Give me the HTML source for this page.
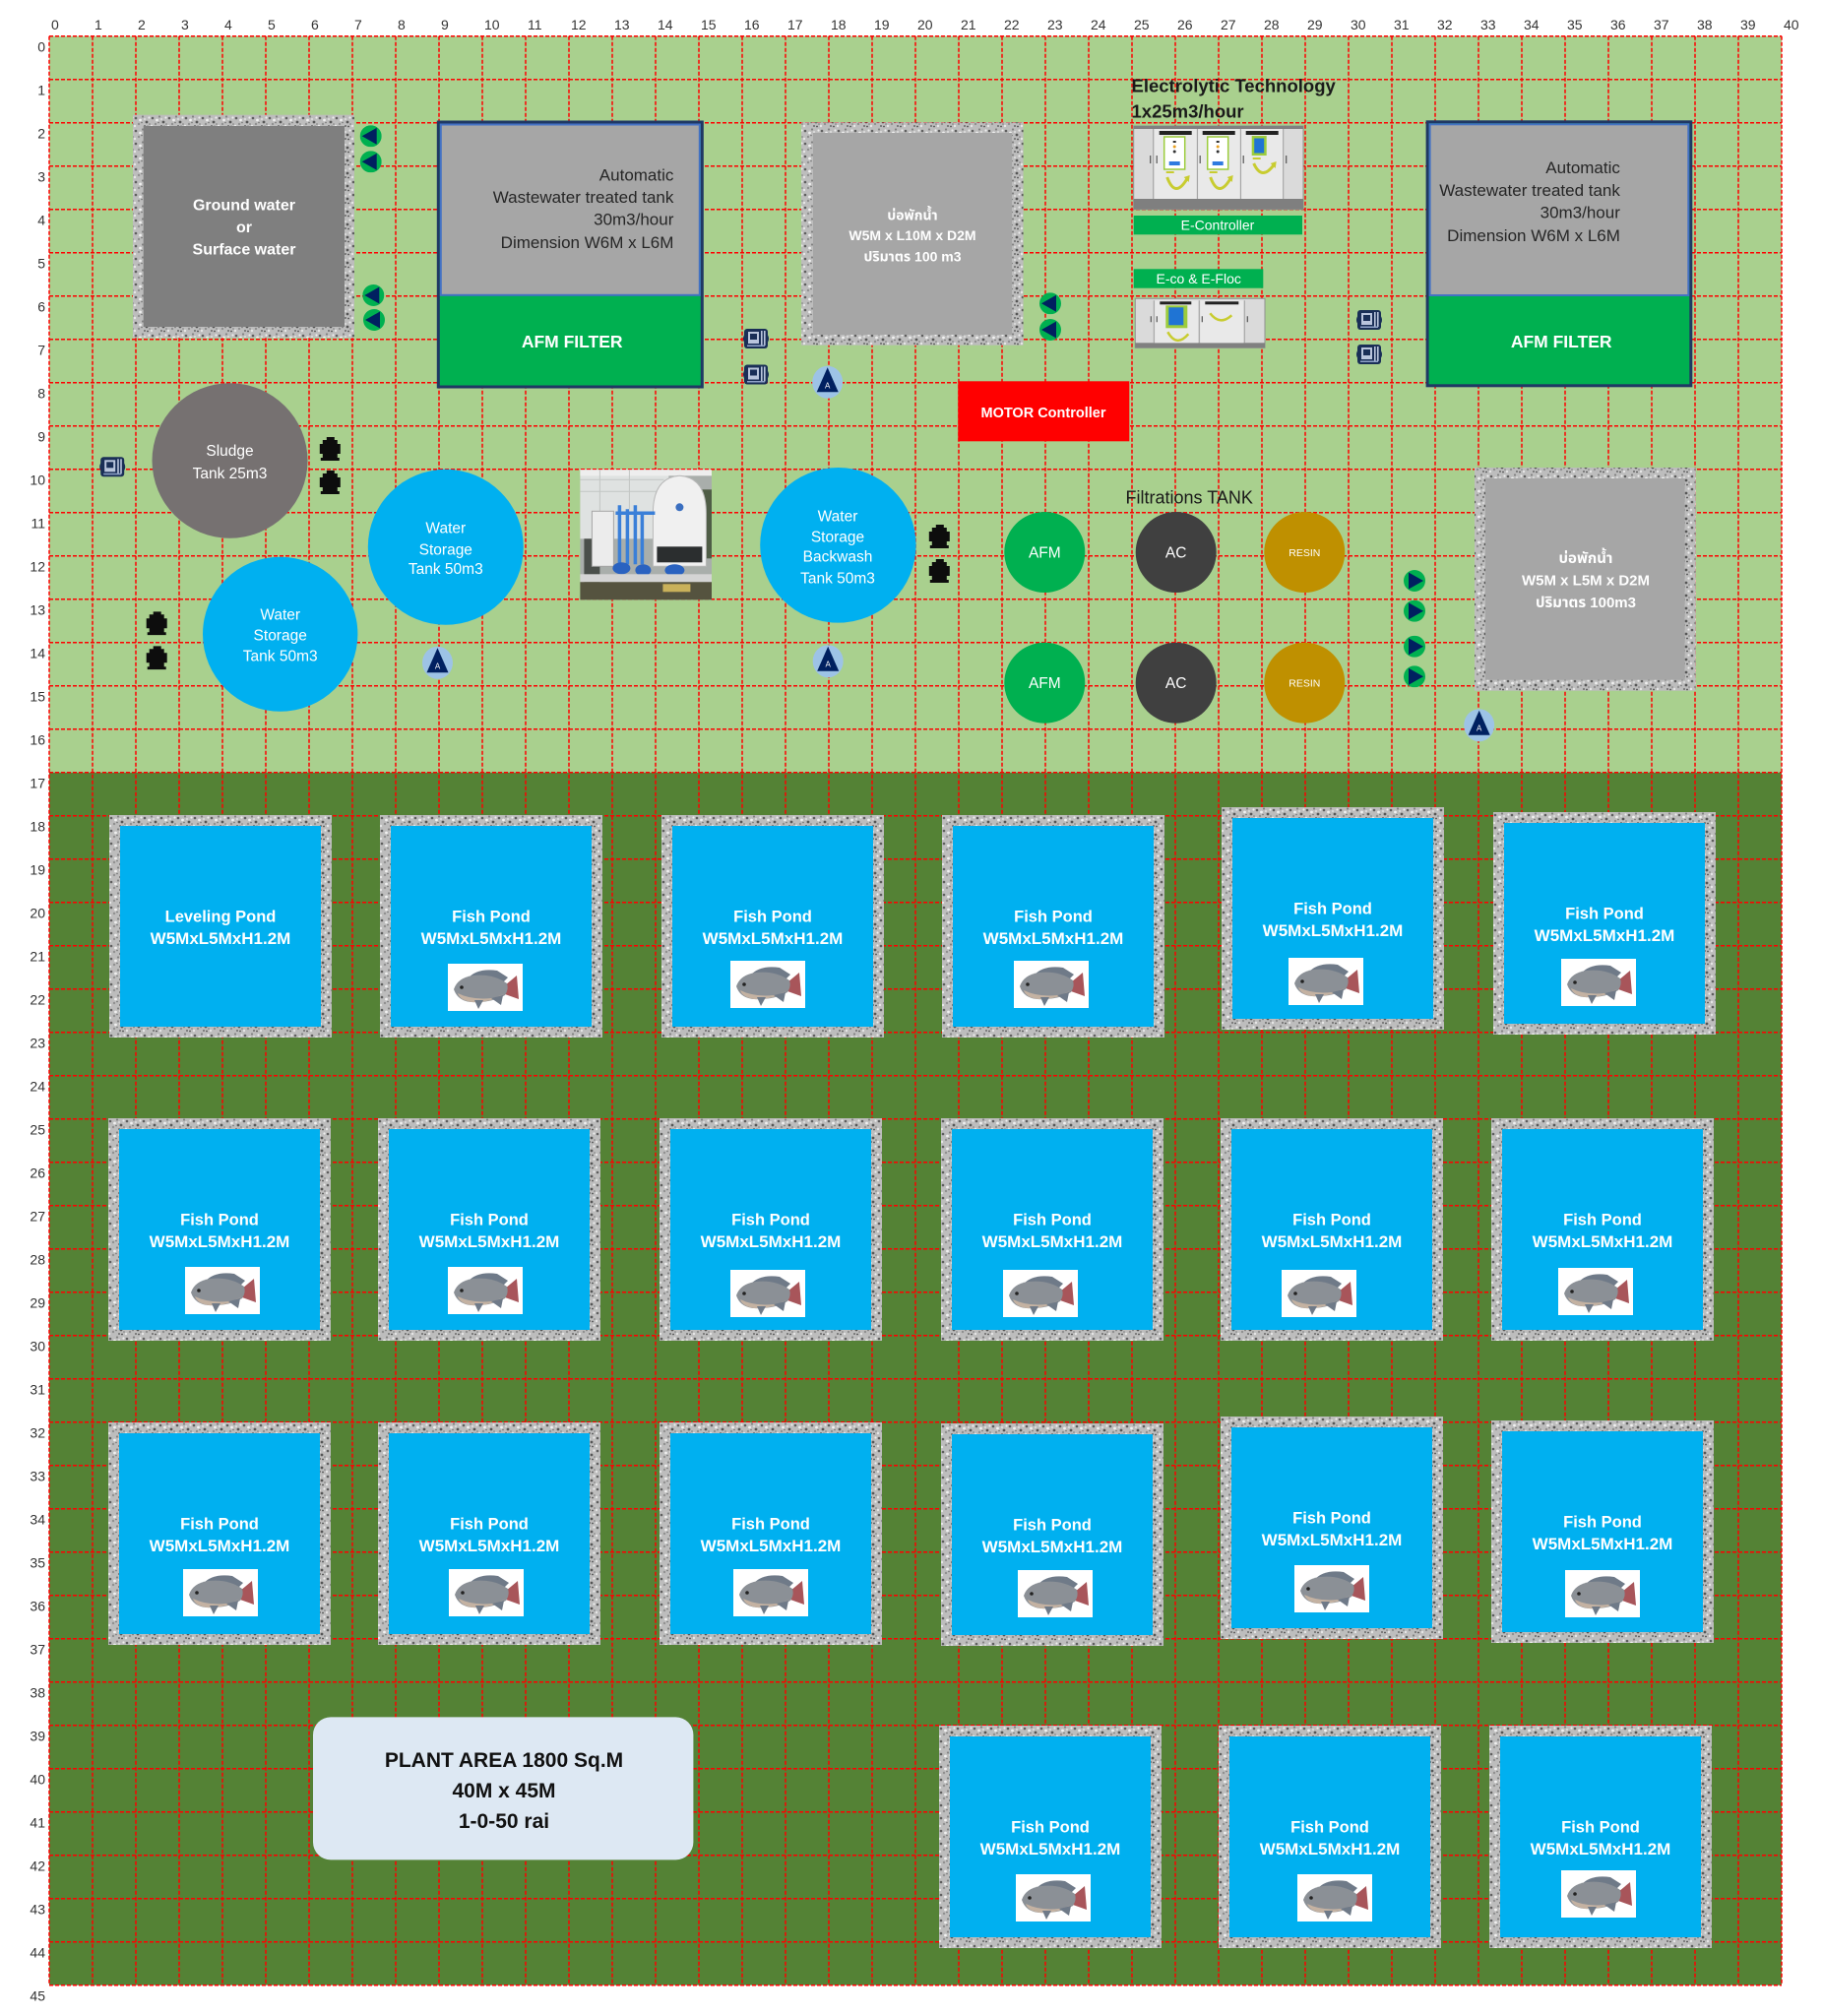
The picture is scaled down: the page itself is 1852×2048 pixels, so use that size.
<!DOCTYPE html>
<html>
<head>
<meta charset="utf-8">
<style>
html,body{margin:0;padding:0;background:#fff;}
body{width:1852px;height:2048px;overflow:hidden;}
svg{display:block;}
.lbl{font-size:14px;fill:#333;}
.gw{font-size:16px;font-weight:bold;fill:#fff;text-anchor:middle;}
.ad{font-size:17px;fill:#262626;text-anchor:end;}
.af{font-size:17.5px;font-weight:bold;fill:#fff;text-anchor:middle;}
.bw{font-size:14px;font-weight:bold;fill:#fff;text-anchor:middle;}
.bw3{font-size:15px;font-weight:bold;fill:#fff;text-anchor:middle;}
.tk{font-size:15.5px;fill:#fff;text-anchor:middle;}
.pt{font-size:16.5px;font-weight:bold;fill:#fff;text-anchor:middle;}
.pd{font-size:17px;font-weight:bold;fill:#fff;text-anchor:middle;}
.pl{font-size:21px;font-weight:bold;fill:#111;text-anchor:middle;}
</style>
</head>
<body>
<svg xmlns="http://www.w3.org/2000/svg" width="1852" height="2048" viewBox="0 0 1852 2048" font-family="'Liberation Sans', sans-serif">
<defs>
<pattern id="gr" width="17" height="13" patternUnits="userSpaceOnUse">
<rect width="17" height="13" fill="#bdbdbd"/>
<circle cx="2" cy="3" r="1.3" fill="#5e5e5e"/>
<circle cx="9" cy="1.5" r="1.1" fill="#828282"/>
<circle cx="13" cy="7" r="1.4" fill="#555"/>
<circle cx="5" cy="9" r="1.2" fill="#909090"/>
<circle cx="11" cy="11" r="1" fill="#6a6a6a"/>
<circle cx="15.5" cy="2.5" r="1.1" fill="#eeeeee"/>
<circle cx="6.5" cy="5" r="1.4" fill="#f0f0f0"/>
<circle cx="1" cy="11" r="1.2" fill="#e6e6e6"/>
<circle cx="14" cy="11.5" r="0.9" fill="#4d4d4d"/>
<circle cx="8" cy="7.5" r="0.8" fill="#727272"/>
<circle cx="11" cy="4" r="1" fill="#e0e0e0"/>
<circle cx="16" cy="9" r="0.8" fill="#7a7a7a"/>
</pattern>
<symbol id="fish" viewBox="0 0 76 48">
<rect width="76" height="48" fill="#fff"/>
<path d="M58 22 L70 12 L72 36 L58 31 Z" fill="#a8555a"/>
<path d="M20 15 Q30 4 50 7 L61 14 L56 19 Z" fill="#6f7a88"/>
<path d="M6 26 Q10 14 26 12 Q46 10 60 20 Q62 26 58 32 Q44 40 24 39 Q10 38 6 26Z" fill="#8b9096"/>
<path d="M10 30 Q24 37 44 35 Q54 33 58 30 Q44 40 24 39 Q12 37 10 30Z" fill="#c4b2a2"/>
<path d="M27 37 L31 46 L36 37Z" fill="#6f7a88"/>
<path d="M44 35 L54 42 L56 32Z" fill="#6f7a88"/>
<circle cx="14" cy="24" r="1.8" fill="#222"/>
</symbol>
<symbol id="pump" viewBox="0 0 30 22">
<rect x="3" y="1" width="24" height="20" rx="3" fill="#1a2f57"/>
<path d="M4 6 Q0 11 4 16 Z" fill="#1a2f57"/>
<path d="M26 6 Q30 11 26 16Z" fill="#1a2f57"/>
<rect x="7" y="4" width="11" height="12" fill="#b9c5dc"/>
<rect x="9" y="6" width="7" height="6" fill="#1a2f57"/>
<rect x="20" y="3" width="1.6" height="15" fill="#b9c5dc"/>
<rect x="23" y="3" width="1.6" height="15" fill="#b9c5dc"/>
<rect x="6" y="17.5" width="18" height="1.5" fill="#8fa3c8"/>
</symbol>
<symbol id="bp" viewBox="0 0 25 24">
<path d="M5 3H9V0H17V3H20V7H23V17H20V21H22V24H3V21H5V17H2V7H5Z" fill="#0d0d0d"/>
</symbol>
<symbol id="vl" viewBox="0 0 22 22">
<circle cx="11" cy="11" r="11" fill="#00b050"/>
<polygon points="2,11 17,2.5 17,19.5" fill="#002060"/>
</symbol>
<symbol id="vr" viewBox="0 0 22 22">
<circle cx="11" cy="11" r="11" fill="#00b050"/>
<polygon points="20,11 5,2.5 5,19.5" fill="#002060"/>
</symbol>
</defs>

<rect x="50" y="36.7" width="1760" height="748" fill="#a9d08e"/>
<rect x="50" y="784.7" width="1760" height="1232" fill="#548235"/>

<path fill="none" stroke="#ff0000" stroke-width="1.5" stroke-dasharray="4 2" d="M50 36.7V2016.7M94 36.7V2016.7M138 36.7V2016.7M182 36.7V2016.7M226 36.7V2016.7M270 36.7V2016.7M314 36.7V2016.7M358 36.7V2016.7M402 36.7V2016.7M446 36.7V2016.7M490 36.7V2016.7M534 36.7V2016.7M578 36.7V2016.7M622 36.7V2016.7M666 36.7V2016.7M710 36.7V2016.7M754 36.7V2016.7M798 36.7V2016.7M842 36.7V2016.7M886 36.7V2016.7M930 36.7V2016.7M974 36.7V2016.7M1018 36.7V2016.7M1062 36.7V2016.7M1106 36.7V2016.7M1150 36.7V2016.7M1194 36.7V2016.7M1238 36.7V2016.7M1282 36.7V2016.7M1326 36.7V2016.7M1370 36.7V2016.7M1414 36.7V2016.7M1458 36.7V2016.7M1502 36.7V2016.7M1546 36.7V2016.7M1590 36.7V2016.7M1634 36.7V2016.7M1678 36.7V2016.7M1722 36.7V2016.7M1766 36.7V2016.7M1810 36.7V2016.7"/>
<path fill="none" stroke="#ff0000" stroke-width="1.5" stroke-dasharray="4 2" d="M50 36.7H1810M50 80.7H1810M50 124.7H1810M50 168.7H1810M50 212.7H1810M50 256.7H1810M50 300.7H1810M50 344.7H1810M50 388.7H1810M50 432.7H1810M50 476.7H1810M50 520.7H1810M50 564.7H1810M50 608.7H1810M50 652.7H1810M50 696.7H1810M50 740.7H1810M50 784.7H1810M50 828.7H1810M50 872.7H1810M50 916.7H1810M50 960.7H1810M50 1004.7H1810M50 1048.7H1810M50 1092.7H1810M50 1136.7H1810M50 1180.7H1810M50 1224.7H1810M50 1268.7H1810M50 1312.7H1810M50 1356.7H1810M50 1400.7H1810M50 1444.7H1810M50 1488.7H1810M50 1532.7H1810M50 1576.7H1810M50 1620.7H1810M50 1664.7H1810M50 1708.7H1810M50 1752.7H1810M50 1796.7H1810M50 1840.7H1810M50 1884.7H1810M50 1928.7H1810M50 1972.7H1810M50 2016.7H1810"/>

<g class="lbl">
<text x="52" y="30">0</text><text x="96" y="30">1</text><text x="140" y="30">2</text><text x="184" y="30">3</text><text x="228" y="30">4</text><text x="272" y="30">5</text><text x="316" y="30">6</text><text x="360" y="30">7</text><text x="404" y="30">8</text><text x="448" y="30">9</text><text x="492" y="30">10</text><text x="536" y="30">11</text><text x="580" y="30">12</text><text x="624" y="30">13</text><text x="668" y="30">14</text><text x="712" y="30">15</text><text x="756" y="30">16</text><text x="800" y="30">17</text><text x="844" y="30">18</text><text x="888" y="30">19</text><text x="932" y="30">20</text><text x="976" y="30">21</text><text x="1020" y="30">22</text><text x="1064" y="30">23</text><text x="1108" y="30">24</text><text x="1152" y="30">25</text><text x="1196" y="30">26</text><text x="1240" y="30">27</text><text x="1284" y="30">28</text><text x="1328" y="30">29</text><text x="1372" y="30">30</text><text x="1416" y="30">31</text><text x="1460" y="30">32</text><text x="1504" y="30">33</text><text x="1548" y="30">34</text><text x="1592" y="30">35</text><text x="1636" y="30">36</text><text x="1680" y="30">37</text><text x="1724" y="30">38</text><text x="1768" y="30">39</text><text x="1812" y="30">40</text>
</g>
<g class="lbl" text-anchor="end">
<text x="46" y="52.7">0</text><text x="46" y="96.7">1</text><text x="46" y="140.7">2</text><text x="46" y="184.7">3</text><text x="46" y="228.7">4</text><text x="46" y="272.7">5</text><text x="46" y="316.7">6</text><text x="46" y="360.7">7</text><text x="46" y="404.7">8</text><text x="46" y="448.7">9</text><text x="46" y="492.7">10</text><text x="46" y="536.7">11</text><text x="46" y="580.7">12</text><text x="46" y="624.7">13</text><text x="46" y="668.7">14</text><text x="46" y="712.7">15</text><text x="46" y="756.7">16</text><text x="46" y="800.7">17</text><text x="46" y="844.7">18</text><text x="46" y="888.7">19</text><text x="46" y="932.7">20</text><text x="46" y="976.7">21</text><text x="46" y="1020.7">22</text><text x="46" y="1064.7">23</text><text x="46" y="1108.7">24</text><text x="46" y="1152.7">25</text><text x="46" y="1196.7">26</text><text x="46" y="1240.7">27</text><text x="46" y="1284.7">28</text><text x="46" y="1328.7">29</text><text x="46" y="1372.7">30</text><text x="46" y="1416.7">31</text><text x="46" y="1460.7">32</text><text x="46" y="1504.7">33</text><text x="46" y="1548.7">34</text><text x="46" y="1592.7">35</text><text x="46" y="1636.7">36</text><text x="46" y="1680.7">37</text><text x="46" y="1724.7">38</text><text x="46" y="1768.7">39</text><text x="46" y="1812.7">40</text><text x="46" y="1856.7">41</text><text x="46" y="1900.7">42</text><text x="46" y="1944.7">43</text><text x="46" y="1988.7">44</text><text x="46" y="2032.7">45</text>
</g>

<rect x="135" y="116.7" width="225" height="226.6" fill="url(#gr)"/>
<rect x="145.7" y="128" width="204.3" height="204" fill="#7f7f7f"/>
<text class="gw" x="248" y="213.5">Ground water</text>
<text class="gw" x="248" y="236">or</text>
<text class="gw" x="248" y="258.5">Surface water</text>

<rect x="445.3" y="124" width="268" height="269" fill="#00b050" stroke="#1f3864" stroke-width="3"/>
<rect x="447.8" y="126.5" width="263" height="173.3" fill="#a6a6a6" stroke="#4472c4" stroke-width="2"/>
<text class="ad" x="684.4" y="183.7">Automatic</text>
<text class="ad" x="684.4" y="206">Wastewater treated tank</text>
<text class="ad" x="684.4" y="228.7">30m3/hour</text>
<text class="ad" x="684.4" y="252">Dimension W6M x L6M</text>
<text class="af" x="581.2" y="353">AFM FILTER</text>

<rect x="814.1" y="124.3" width="225.5" height="226.4" fill="url(#gr)"/>
<rect x="826" y="135" width="202" height="205" fill="#a6a6a6"/>
<text class="bw" x="927" y="223.3" font-family="'Liberation Sans', 'Noto Sans Thai', sans-serif">บ่อพักน้ำ</text>
<text class="bw" x="927" y="244">W5M x L10M x D2M</text>
<text class="bw" x="927" y="265.7" font-family="'Liberation Sans', 'Noto Sans Thai', sans-serif">ปริมาตร 100 m3</text>

<text x="1149.5" y="93.4" font-size="18.5" font-weight="bold" fill="#1a1a1a">Electrolytic Technology</text>
<text x="1149.5" y="119.4" font-size="18.5" font-weight="bold" fill="#1a1a1a">1x25m3/hour</text>

<g transform="translate(1151.7,128)">
<rect width="172.3" height="84.7" fill="#dadada" stroke="#909090"/>
<rect width="172.3" height="3" fill="#808080"/>
<rect y="74" width="172.3" height="10.7" fill="#7f7f7f"/>
<rect x="21" y="3" width="43" height="71" fill="#e9e9e9"/>
<rect x="65.5" y="3" width="42.5" height="71" fill="#e9e9e9"/>
<rect x="109.5" y="3" width="42" height="71" fill="#e9e9e9"/>
<path d="M20 3V74M64.7 3V74M108.7 3V74M152 3V74" stroke="#a0a0a0"/>
<path d="M17 30V38M23.5 30V38M67.5 30V38M111.5 30V38M155 30V38" stroke="#555" stroke-width="1.2"/>
<rect x="26" y="5" width="33" height="4" fill="#222"/>
<rect x="70" y="5" width="33" height="4" fill="#222"/>
<rect x="114" y="5" width="33" height="4" fill="#222"/>
<rect x="31" y="11" width="21" height="33" fill="#fff" stroke="#9ccc3c" stroke-width="1.5"/>
<rect x="40" y="15" width="3" height="2" fill="#333"/>
<circle cx="41.5" cy="21" r="1.5" fill="#e8a020"/>
<circle cx="41.5" cy="26" r="1.5" fill="#333"/>
<rect x="36" y="36" width="11" height="4" fill="#2f7be0"/>
<rect x="75" y="11" width="21" height="33" fill="#fff" stroke="#9ccc3c" stroke-width="1.5"/>
<rect x="84" y="15" width="3" height="2" fill="#333"/>
<circle cx="85.5" cy="21" r="1.5" fill="#e8a020"/>
<circle cx="85.5" cy="26" r="1.5" fill="#333"/>
<rect x="80" y="36" width="11" height="4" fill="#2f7be0"/>
<rect x="120" y="10" width="15" height="20" fill="#9ccc3c"/>
<rect x="122.5" y="12.5" width="10" height="15" fill="#1f74d4"/>
<path d="M34 52 Q42 74 54 54M78 52 Q86 74 98 54M122 38 Q130 56 142 40" stroke="#c8cc30" stroke-width="3" fill="none"/>
<polygon points="51,52 57,50 56,57" fill="#c8cc30"/>
<polygon points="95,52 101,50 100,57" fill="#c8cc30"/>
<polygon points="139,38 145,36 144,43" fill="#c8cc30"/>
<rect x="33" y="46" width="8" height="2" fill="#c8cc30"/>
<rect x="77" y="46" width="8" height="2" fill="#c8cc30"/>
<rect x="121" y="32" width="8" height="2" fill="#c8cc30"/>
</g>
<rect x="1151.7" y="219" width="171.3" height="19.3" fill="#00b050"/>
<text x="1237" y="233.7" font-size="14" fill="#fff" text-anchor="middle">E-Controller</text>
<rect x="1151.7" y="273.3" width="131.6" height="19.4" fill="#00b050"/>
<text x="1217.7" y="288" font-size="14" fill="#fff" text-anchor="middle">E-co &amp; E-Floc</text>
<g transform="translate(1153.3,303.3)">
<rect width="131.7" height="50" fill="#dadada" stroke="#909090"/>
<rect y="45" width="131.7" height="5" fill="#808080"/>
<rect x="20" y="2" width="44" height="43" fill="#e9e9e9"/>
<rect x="66" y="2" width="44" height="43" fill="#e9e9e9"/>
<path d="M19 2V45M65 2V45M111 2V45" stroke="#a0a0a0"/>
<path d="M16 18V24M22 18V24M68 18V24M114 18V24" stroke="#555" stroke-width="1.2"/>
<rect x="25" y="3" width="32" height="3" fill="#222"/>
<rect x="71" y="3" width="34" height="3" fill="#222"/>
<rect x="31" y="7" width="22" height="23" fill="#9ccc3c"/>
<rect x="34" y="9" width="15" height="18" fill="#1f74d4"/>
<path d="M33 34 Q42 50 54 36M76 15 Q86 28 98 17" stroke="#c8cc30" stroke-width="2.5" fill="none"/>
</g>

<rect x="1450.1" y="123.8" width="267.7" height="268" fill="#00b050" stroke="#1f3864" stroke-width="3"/>
<rect x="1452.6" y="126.3" width="262.7" height="173.7" fill="#a6a6a6" stroke="#4472c4" stroke-width="2"/>
<text class="ad" x="1645.9" y="176.1">Automatic</text>
<text class="ad" x="1645.9" y="198.8">Wastewater treated tank</text>
<text class="ad" x="1645.9" y="221.4">30m3/hour</text>
<text class="ad" x="1645.9" y="244.8">Dimension W6M x L6M</text>
<text class="af" x="1586.2" y="353">AFM FILTER</text>

<rect x="973.3" y="387.3" width="174" height="61" fill="#ff0000"/>
<text x="1060" y="424.2" font-size="14.5" font-weight="bold" fill="#fff" text-anchor="middle">MOTOR Controller</text>

<ellipse cx="233.5" cy="468" rx="79" ry="78.7" fill="#767171"/>
<text class="tk" x="233.5" y="463.2" font-size="16.5">Sludge</text>
<text class="tk" x="233.5" y="485.9" font-size="16.5">Tank 25m3</text>

<ellipse cx="284.7" cy="644.2" rx="78.7" ry="78.5" fill="#00b0f0"/>
<text class="tk" x="284.7" y="629.6">Water</text>
<text class="tk" x="284.7" y="650.6">Storage</text>
<text class="tk" x="284.7" y="671.3">Tank 50m3</text>

<ellipse cx="452.8" cy="555.8" rx="79" ry="79" fill="#00b0f0"/>
<text class="tk" x="452.8" y="541.6">Water</text>
<text class="tk" x="452.8" y="563.3">Storage</text>
<text class="tk" x="452.8" y="582.9">Tank 50m3</text>

<ellipse cx="851.4" cy="553.8" rx="79.2" ry="78.8" fill="#00b0f0"/>
<text class="tk" x="851" y="529.6">Water</text>
<text class="tk" x="851" y="550.6">Storage</text>
<text class="tk" x="851" y="570.6">Backwash</text>
<text class="tk" x="851" y="592.3">Tank 50m3</text>

<g transform="translate(589.4,477.3)">
<rect width="133.6" height="132" fill="#a9aeab"/>
<rect width="90" height="70" fill="#dfe2e1"/>
<rect width="133.6" height="6" fill="#eeeeee"/>
<path d="M0 10H85M0 22H85M20 0V70M50 0V40" stroke="#c2c6c4"/>
<rect x="115" y="20" width="18.6" height="70" fill="#4f5d46"/>
<rect x="4" y="70" width="16" height="45" fill="#4a4f4a"/>
<rect x="12" y="42" width="22" height="56" fill="#ececec" stroke="#a5a5a5"/>
<path d="M74 44 Q74 8 101 6 Q128 8 128 44 V98 H74Z" fill="#f0f0f0" stroke="#b8b8b8"/>
<rect x="78" y="78" width="46" height="16" fill="#2b2e2f"/>
<circle cx="101" cy="38" r="4" fill="#3b6fc0"/>
<path d="M40 36V96M48 40V96M56 36V96M63 44V96M36 44H76" stroke="#3a7fd8" stroke-width="3.5" fill="none"/>
<ellipse cx="42" cy="100" rx="9" ry="6" fill="#2a62c0"/>
<ellipse cx="64" cy="102" rx="8" ry="6" fill="#2a62c0"/>
<ellipse cx="96" cy="102" rx="10" ry="6" fill="#2a62c0"/>
<rect y="106" width="133.6" height="8" fill="#d4d4d4"/>
<rect y="114" width="133.6" height="18" fill="#55533f"/>
<rect x="84" y="116" width="28" height="8" fill="#c9b15a"/>
</g>

<text x="1208.2" y="511.5" font-size="18" fill="#1a1a1a" text-anchor="middle">Filtrations TANK</text>
<circle cx="1061.3" cy="561" r="41" fill="#00b050"/>
<circle cx="1194.7" cy="561" r="41" fill="#404040"/>
<circle cx="1325.3" cy="561" r="41" fill="#bf9000"/>
<circle cx="1061.3" cy="693.7" r="41" fill="#00b050"/>
<circle cx="1194.7" cy="693.7" r="41" fill="#404040"/>
<circle cx="1325.3" cy="693.7" r="41" fill="#bf9000"/>
<g font-size="15.5" fill="#fff" text-anchor="middle">
<text x="1061.3" y="566.5">AFM</text><text x="1194.7" y="566.5">AC</text>
<text x="1061.3" y="699.2">AFM</text><text x="1194.7" y="699.2">AC</text>
</g>
<g font-size="10.5" fill="#fff" text-anchor="middle">
<text x="1325.3" y="564.8">RESIN</text><text x="1325.3" y="697.5">RESIN</text>
</g>

<rect x="1498" y="475" width="224.7" height="226.7" fill="url(#gr)"/>
<rect x="1509" y="486" width="202.7" height="204.7" fill="#a6a6a6"/>
<text class="bw3" x="1611" y="572" font-family="'Liberation Sans', 'Noto Sans Thai', sans-serif">บ่อพักน้ำ</text>
<text class="bw3" x="1611" y="594.6">W5M x L5M x D2M</text>
<text class="bw3" x="1611" y="617" font-family="'Liberation Sans', 'Noto Sans Thai', sans-serif">ปริมาตร 100m3</text>

<use href="#vl" x="365.7" y="127.3" width="22" height="22"/>
<use href="#vl" x="365.7" y="153.3" width="22" height="22"/>
<use href="#vl" x="368.3" y="289" width="22" height="22"/>
<use href="#vl" x="369" y="314" width="22" height="22"/>
<use href="#vl" x="1056" y="297.3" width="22" height="22"/>
<use href="#vl" x="1056" y="324" width="22" height="22"/>
<use href="#vr" x="1426" y="579" width="22" height="22"/>
<use href="#vr" x="1426" y="609.7" width="22" height="22"/>
<use href="#vr" x="1426" y="645.7" width="22" height="22"/>
<use href="#vr" x="1426" y="676.3" width="22" height="22"/>

<use href="#pump" x="753" y="333" width="30" height="22"/>
<use href="#pump" x="753" y="369.5" width="30" height="22"/>
<use href="#pump" x="99.2" y="463.3" width="30" height="22"/>
<use href="#pump" x="1376" y="314" width="30" height="22"/>
<use href="#pump" x="1376" y="349" width="30" height="22"/>
<use href="#bp" x="322.8" y="444" width="25" height="24"/>
<use href="#bp" x="322.8" y="478" width="25" height="24"/>
<use href="#bp" x="146.7" y="621.3" width="25" height="24"/>
<use href="#bp" x="146.7" y="656.3" width="25" height="24"/>
<use href="#bp" x="941.8" y="533" width="25" height="24"/>
<use href="#bp" x="941.8" y="568" width="25" height="24"/>

<g transform="translate(840.7,388.3)"><ellipse rx="15.5" ry="16.5" fill="#9dc3e6"/><polygon points="0,-15 -11,10 11,10" fill="#002060"/><text y="6" font-size="8" fill="#fff" text-anchor="middle">A</text></g>
<g transform="translate(444.5,673.3)"><ellipse rx="15.5" ry="16.5" fill="#9dc3e6"/><polygon points="0,-15 -11,10 11,10" fill="#002060"/><text y="6" font-size="8" fill="#fff" text-anchor="middle">A</text></g>
<g transform="translate(841.2,671.7)"><ellipse rx="15.5" ry="16.5" fill="#9dc3e6"/><polygon points="0,-15 -11,10 11,10" fill="#002060"/><text y="6" font-size="8" fill="#fff" text-anchor="middle">A</text></g>
<g transform="translate(1502.7,736.7)"><ellipse rx="15.5" ry="16.5" fill="#9dc3e6"/><polygon points="0,-15 -11,10 11,10" fill="#002060"/><text y="6" font-size="8" fill="#fff" text-anchor="middle">A</text></g>

<g transform="translate(111,828)"><rect width="226" height="226" fill="url(#gr)"/><rect x="11" y="11" width="204" height="204" fill="#00b0f0"/><text class="pt" x="113" y="108.4">Leveling Pond</text><text class="pd" x="113" y="131">W5MxL5MxH1.2M</text></g>
<g transform="translate(386,828)"><rect width="226" height="226" fill="url(#gr)"/><rect x="11" y="11" width="204" height="204" fill="#00b0f0"/><text class="pt" x="113" y="108.4">Fish Pond</text><text class="pd" x="113" y="131">W5MxL5MxH1.2M</text><use href="#fish" x="69" y="151" width="76" height="48"/></g>
<g transform="translate(672,828)"><rect width="226" height="226" fill="url(#gr)"/><rect x="11" y="11" width="204" height="204" fill="#00b0f0"/><text class="pt" x="113" y="108.4">Fish Pond</text><text class="pd" x="113" y="131">W5MxL5MxH1.2M</text><use href="#fish" x="70" y="148" width="76" height="48"/></g>
<g transform="translate(957,828)"><rect width="226" height="226" fill="url(#gr)"/><rect x="11" y="11" width="204" height="204" fill="#00b0f0"/><text class="pt" x="113" y="108.4">Fish Pond</text><text class="pd" x="113" y="131">W5MxL5MxH1.2M</text><use href="#fish" x="73" y="148" width="76" height="48"/></g>
<g transform="translate(1241,820)"><rect width="226" height="226" fill="url(#gr)"/><rect x="11" y="11" width="204" height="204" fill="#00b0f0"/><text class="pt" x="113" y="108.4">Fish Pond</text><text class="pd" x="113" y="131">W5MxL5MxH1.2M</text><use href="#fish" x="68" y="153" width="76" height="48"/></g>
<g transform="translate(1517,825)"><rect width="226" height="226" fill="url(#gr)"/><rect x="11" y="11" width="204" height="204" fill="#00b0f0"/><text class="pt" x="113" y="108.4">Fish Pond</text><text class="pd" x="113" y="131">W5MxL5MxH1.2M</text><use href="#fish" x="69" y="149" width="76" height="48"/></g>

<g transform="translate(110,1136)"><rect width="226" height="226" fill="url(#gr)"/><rect x="11" y="11" width="204" height="204" fill="#00b0f0"/><text class="pt" x="113" y="108.4">Fish Pond</text><text class="pd" x="113" y="131">W5MxL5MxH1.2M</text><use href="#fish" x="78" y="151" width="76" height="48"/></g>
<g transform="translate(384,1136)"><rect width="226" height="226" fill="url(#gr)"/><rect x="11" y="11" width="204" height="204" fill="#00b0f0"/><text class="pt" x="113" y="108.4">Fish Pond</text><text class="pd" x="113" y="131">W5MxL5MxH1.2M</text><use href="#fish" x="71" y="151" width="76" height="48"/></g>
<g transform="translate(670,1136)"><rect width="226" height="226" fill="url(#gr)"/><rect x="11" y="11" width="204" height="204" fill="#00b0f0"/><text class="pt" x="113" y="108.4">Fish Pond</text><text class="pd" x="113" y="131">W5MxL5MxH1.2M</text><use href="#fish" x="72" y="154" width="76" height="48"/></g>
<g transform="translate(956,1136)"><rect width="226" height="226" fill="url(#gr)"/><rect x="11" y="11" width="204" height="204" fill="#00b0f0"/><text class="pt" x="113" y="108.4">Fish Pond</text><text class="pd" x="113" y="131">W5MxL5MxH1.2M</text><use href="#fish" x="63" y="154" width="76" height="48"/></g>
<g transform="translate(1240,1136)"><rect width="226" height="226" fill="url(#gr)"/><rect x="11" y="11" width="204" height="204" fill="#00b0f0"/><text class="pt" x="113" y="108.4">Fish Pond</text><text class="pd" x="113" y="131">W5MxL5MxH1.2M</text><use href="#fish" x="62" y="154" width="76" height="48"/></g>
<g transform="translate(1515,1136)"><rect width="226" height="226" fill="url(#gr)"/><rect x="11" y="11" width="204" height="204" fill="#00b0f0"/><text class="pt" x="113" y="108.4">Fish Pond</text><text class="pd" x="113" y="131">W5MxL5MxH1.2M</text><use href="#fish" x="68" y="152" width="76" height="48"/></g>

<g transform="translate(110,1445)"><rect width="226" height="226" fill="url(#gr)"/><rect x="11" y="11" width="204" height="204" fill="#00b0f0"/><text class="pt" x="113" y="108.4">Fish Pond</text><text class="pd" x="113" y="131">W5MxL5MxH1.2M</text><use href="#fish" x="76" y="149" width="76" height="48"/></g>
<g transform="translate(384,1445)"><rect width="226" height="226" fill="url(#gr)"/><rect x="11" y="11" width="204" height="204" fill="#00b0f0"/><text class="pt" x="113" y="108.4">Fish Pond</text><text class="pd" x="113" y="131">W5MxL5MxH1.2M</text><use href="#fish" x="72" y="149" width="76" height="48"/></g>
<g transform="translate(670,1445)"><rect width="226" height="226" fill="url(#gr)"/><rect x="11" y="11" width="204" height="204" fill="#00b0f0"/><text class="pt" x="113" y="108.4">Fish Pond</text><text class="pd" x="113" y="131">W5MxL5MxH1.2M</text><use href="#fish" x="75" y="149" width="76" height="48"/></g>
<g transform="translate(956,1446)"><rect width="226" height="226" fill="url(#gr)"/><rect x="11" y="11" width="204" height="204" fill="#00b0f0"/><text class="pt" x="113" y="108.4">Fish Pond</text><text class="pd" x="113" y="131">W5MxL5MxH1.2M</text><use href="#fish" x="78" y="149" width="76" height="48"/></g>
<g transform="translate(1240,1439)"><rect width="226" height="226" fill="url(#gr)"/><rect x="11" y="11" width="204" height="204" fill="#00b0f0"/><text class="pt" x="113" y="108.4">Fish Pond</text><text class="pd" x="113" y="131">W5MxL5MxH1.2M</text><use href="#fish" x="75" y="151" width="76" height="48"/></g>
<g transform="translate(1515,1443)"><rect width="226" height="226" fill="url(#gr)"/><rect x="11" y="11" width="204" height="204" fill="#00b0f0"/><text class="pt" x="113" y="108.4">Fish Pond</text><text class="pd" x="113" y="131">W5MxL5MxH1.2M</text><use href="#fish" x="75" y="152" width="76" height="48"/></g>

<g transform="translate(954,1753)"><rect width="226" height="226" fill="url(#gr)"/><rect x="11" y="11" width="204" height="204" fill="#00b0f0"/><text class="pt" x="113" y="108.4">Fish Pond</text><text class="pd" x="113" y="131">W5MxL5MxH1.2M</text><use href="#fish" x="78" y="151" width="76" height="48"/></g>
<g transform="translate(1238,1753)"><rect width="226" height="226" fill="url(#gr)"/><rect x="11" y="11" width="204" height="204" fill="#00b0f0"/><text class="pt" x="113" y="108.4">Fish Pond</text><text class="pd" x="113" y="131">W5MxL5MxH1.2M</text><use href="#fish" x="80" y="151" width="76" height="48"/></g>
<g transform="translate(1513,1753)"><rect width="226" height="226" fill="url(#gr)"/><rect x="11" y="11" width="204" height="204" fill="#00b0f0"/><text class="pt" x="113" y="108.4">Fish Pond</text><text class="pd" x="113" y="131">W5MxL5MxH1.2M</text><use href="#fish" x="73" y="147" width="76" height="48"/></g>

<rect x="318" y="1744.4" width="386.4" height="145" rx="18" fill="#dde8f3"/>
<text class="pl" x="512" y="1795.2">PLANT AREA 1800 Sq.M</text>
<text class="pl" x="512" y="1826.1">40M x 45M</text>
<text class="pl" x="512" y="1856.9">1-0-50 rai</text>
</svg>
</body>
</html>
